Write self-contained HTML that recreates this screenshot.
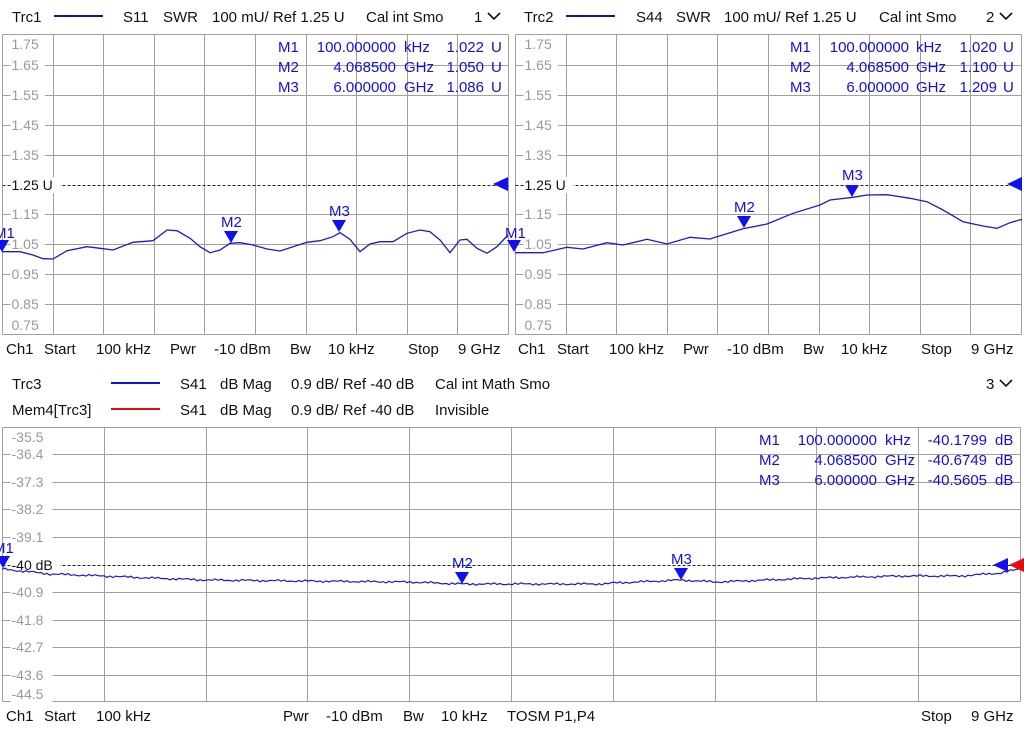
<!DOCTYPE html>
<html><head><meta charset="utf-8"><style>
html,body{margin:0;padding:0;background:#fff;}
svg{display:block;font-family:"Liberation Sans",sans-serif;}
.t{font-size:15px;fill:#111;}
.g{font-size:14px;fill:#9a9a9a;}
.m{font-size:15px;fill:#1010e0;}
.grid line{stroke:#a0a0a0;stroke-width:1;}
</style></head><body>
<svg id="s" width="1024" height="730" viewBox="0 0 1024 730" xmlns="http://www.w3.org/2000/svg">
<g id="grid" class="grid"></g>
<!-- headers -->
<text class="t" x="12" y="22">Trc1</text><line x1="54" y1="16" x2="103" y2="16" stroke="#1010c0" stroke-width="2"/>
<text class="t" x="123" y="22">S11</text><text class="t" x="163" y="22">SWR</text><text class="t" x="212" y="22">100 mU/ Ref 1.25 U</text><text class="t" x="366" y="22">Cal int Smo</text><text class="t" x="474" y="22">1</text>
<polyline points="488,13 494,19 500,13" fill="none" stroke="#111" stroke-width="1.6"/>
<text class="t" x="524" y="22">Trc2</text><line x1="566" y1="16" x2="615" y2="16" stroke="#1010c0" stroke-width="2"/>
<text class="t" x="636" y="22">S44</text><text class="t" x="676" y="22">SWR</text><text class="t" x="724" y="22">100 mU/ Ref 1.25 U</text><text class="t" x="879" y="22">Cal int Smo</text><text class="t" x="986" y="22">2</text>
<polyline points="1000,13 1006,19 1012,13" fill="none" stroke="#111" stroke-width="1.6"/>
<!-- footers top -->
<g class="t">
<text x="6" y="354">Ch1</text><text x="44" y="354">Start</text><text x="96" y="354">100 kHz</text><text x="170" y="354">Pwr</text><text x="214" y="354">-10 dBm</text><text x="290" y="354">Bw</text><text x="328" y="354">10 kHz</text><text x="408" y="354">Stop</text><text x="458" y="354">9 GHz</text>
<text x="518" y="354">Ch1</text><text x="557" y="354">Start</text><text x="609" y="354">100 kHz</text><text x="683" y="354">Pwr</text><text x="727" y="354">-10 dBm</text><text x="803" y="354">Bw</text><text x="841" y="354">10 kHz</text><text x="921" y="354">Stop</text><text x="971" y="354">9 GHz</text>
<text x="12" y="389">Trc3</text><text x="180" y="389">S41</text><text x="220" y="389">dB Mag</text><text x="291" y="389">0.9 dB/ Ref -40 dB</text><text x="435" y="389">Cal int Math Smo</text><text x="986" y="389">3</text>
<text x="12" y="415">Mem4[Trc3]</text><text x="180" y="415">S41</text><text x="220" y="415">dB Mag</text><text x="291" y="415">0.9 dB/ Ref -40 dB</text><text x="435" y="415">Invisible</text>
<text x="6" y="721">Ch1</text><text x="44" y="721">Start</text><text x="96" y="721">100 kHz</text><text x="283" y="721">Pwr</text><text x="326" y="721">-10 dBm</text><text x="403" y="721">Bw</text><text x="441" y="721">10 kHz</text><text x="507" y="721">TOSM P1,P4</text><text x="921" y="721">Stop</text><text x="971" y="721">9 GHz</text>
</g>
<line x1="111" y1="383" x2="160" y2="383" stroke="#1010e0" stroke-width="2"/>
<line x1="111" y1="409" x2="160" y2="409" stroke="#e01010" stroke-width="2"/>
<polyline points="1000,380 1006,386 1012,380" fill="none" stroke="#111" stroke-width="1.6"/>
<g id="labels"></g>
<!-- traces -->
<polyline fill="none" stroke="#1a1ad0" stroke-width="1.3" points="2,251.7 20,251.7 33,255 43,258.7 53,259 67,250.7 87,246.7 100,248.3 113,250 133,242.3 153,240.7 167,230 177,230.7 190,238.3 200,246.7 210,252.7 220,250 230,243.3 240,242.7 253,245 267,249 280,251 293,246.7 307,242.3 320,240.7 333,236.7 340,232.7 350,239.3 360,251.7 370,244 380,241.7 393,241.7 407,233.3 420,230 430,231.7 440,240 450,252.7 460,240 467,239.3 477,248.3 487,253.3 497,246.7 508,235"/>
<polyline fill="none" stroke="#1a1ad0" stroke-width="1.3" points="515,252.7 543,252.7 567,247.3 583,249 607,242.7 623,245 647,239.3 667,244 690,237.3 710,239 717,236.7 743,228.7 767,224 793,213.3 820,205 830,200 853,197.3 867,195 887,194.7 910,198.3 927,201.7 943,210 963,221.7 983,226 997,228.3 1010,222.7 1022,219.3"/>
<polyline id="b" fill="none" stroke="#1a1ad0" stroke-width="1.2" points=""/>
<!-- markers table -->
<g class="m">
<text x="278" y="52">M1</text><text x="396" y="52" text-anchor="end">100.000000</text><text x="404" y="52">kHz</text><text x="484" y="52" text-anchor="end">1.022</text><text x="491" y="52">U</text>
<text x="278" y="72">M2</text><text x="396" y="72" text-anchor="end">4.068500</text><text x="404" y="72">GHz</text><text x="484" y="72" text-anchor="end">1.050</text><text x="491" y="72">U</text>
<text x="278" y="92">M3</text><text x="396" y="92" text-anchor="end">6.000000</text><text x="404" y="92">GHz</text><text x="484" y="92" text-anchor="end">1.086</text><text x="491" y="92">U</text>
<text x="790" y="52">M1</text><text x="909" y="52" text-anchor="end">100.000000</text><text x="916" y="52">kHz</text><text x="997" y="52" text-anchor="end">1.020</text><text x="1003" y="52">U</text>
<text x="790" y="72">M2</text><text x="909" y="72" text-anchor="end">4.068500</text><text x="916" y="72">GHz</text><text x="997" y="72" text-anchor="end">1.100</text><text x="1003" y="72">U</text>
<text x="790" y="92">M3</text><text x="909" y="92" text-anchor="end">6.000000</text><text x="916" y="92">GHz</text><text x="997" y="92" text-anchor="end">1.209</text><text x="1003" y="92">U</text>
<text x="759" y="445">M1</text><text x="877" y="445" text-anchor="end">100.000000</text><text x="885" y="445">kHz</text><text x="987" y="445" text-anchor="end">-40.1799</text><text x="995" y="445">dB</text>
<text x="759" y="465">M2</text><text x="877" y="465" text-anchor="end">4.068500</text><text x="885" y="465">GHz</text><text x="987" y="465" text-anchor="end">-40.6749</text><text x="995" y="465">dB</text>
<text x="759" y="485">M3</text><text x="877" y="485" text-anchor="end">6.000000</text><text x="885" y="485">GHz</text><text x="987" y="485" text-anchor="end">-40.5605</text><text x="995" y="485">dB</text>
<!-- marker labels -->
<text x="-6" y="238">M1</text><text x="221" y="227">M2</text><text x="329" y="216">M3</text><text x="505" y="238">M1</text>
<text x="734" y="212">M2</text><text x="842" y="180">M3</text>
<text x="-7" y="553">M1</text><text x="452" y="568">M2</text><text x="671" y="564">M3</text>
</g>
<g fill="#1010f0">
<polygon points="-5,240 9,240 2,252"/><polygon points="224,231 238,231 231,243"/><polygon points="332,220 346,220 339,232"/><polygon points="507,240 521,240 514,252"/>
<polygon points="737,216 751,216 744,228"/><polygon points="845,185 859,185 852,197"/>
<polygon points="-4,556 10,556 3,568"/><polygon points="455,572 469,572 462,584"/><polygon points="674,568 688,568 681,580"/>
<polygon points="508,177 508,191 493,184"/><polygon points="1022,177 1022,191 1007,184"/><polygon points="1008,558 1008,572 993,565"/>
</g>
<polygon fill="#e01010" points="1024,558 1024,572 1009,565"/>
</svg>
<script>
var NS="http://www.w3.org/2000/svg",grid=document.getElementById('grid'),lab=document.getElementById('labels');
function L(x1,y1,x2,y2,st,dash){var l=document.createElementNS(NS,'line');l.setAttribute('x1',x1);l.setAttribute('y1',y1);l.setAttribute('x2',x2);l.setAttribute('y2',y2);if(st)l.setAttribute('style',st);grid.appendChild(l);}
function T(x,y,s,black){var r=document.createElementNS(NS,'rect');var w=s.length*7.6+4;r.setAttribute('x',x-1);r.setAttribute('y',y-8);r.setAttribute('width',w);r.setAttribute('height',16);r.setAttribute('fill','#fff');lab.appendChild(r);var t=document.createElementNS(NS,'text');t.setAttribute('x',x);t.setAttribute('y',y+5);t.setAttribute('class',black?'t':'g');if(black)t.setAttribute('style','font-size:14px');t.textContent=s;lab.appendChild(t);}
function panel(x0,x1,y0,y1,vx,hy,labs,ref,refLab){
 vx.forEach(function(x){L(x,y0,x,y1);});
 hy.forEach(function(y,i){if(i===ref)return;L(x0,y,x1,y);});
 L(x0,y0,x1,y0);L(x0,y1,x1,y1);L(x0,y0,x0,y1);L(x1,y0,x1,y1);
 L(x0,hy[ref],x1,hy[ref],'stroke:#222;stroke-dasharray:3,2');
 labs.forEach(function(a){T(x0+9,a[0],a[1],a[2]);});
}
var v1=[],v2=[],v3=[];for(var i=1;i<10;i++){v1.push(Math.round(2+i*50.6)+.5);v2.push(Math.round(515+i*50.6)+.5);v3.push(Math.round(2+i*101.8)+.5);}
var h=[65,95,125,155,185,214,244,274,304].map(function(y){return y+.5;});
var lt=[[44,'1.75'],[65,'1.65'],[95,'1.55'],[125,'1.45'],[155,'1.35'],[185,'1.25 U',1],[214,'1.15'],[244,'1.05'],[274,'0.95'],[304,'0.85'],[325,'0.75']];
panel(2.5,508.5,34.5,334.5,v1,h,lt,4);
panel(515.5,1021.5,34.5,334.5,v2,h,lt,4);
var hb=[454,482,509,537,565,592,620,647,675].map(function(y){return y+.5;});
var lb=[[437,'-35.5'],[454,'-36.4'],[482,'-37.3'],[509,'-38.2'],[537,'-39.1'],[565,'-40 dB',1],[592,'-40.9'],[620,'-41.8'],[647,'-42.7'],[675,'-43.6'],[694,'-44.5']];
panel(2.5,1020.5,427.5,701.5,v3,hb,lb,4);
var k=[[2,569],[50,574],[104,576],[150,578],[206,580],[300,581],[410,582],[462,584],[520,584],[600,584],[614,583],[681,580],[716,582],[818,578],[900,576],[960,576],[1000,573],[1020,569]];
var pts=[],j=0;for(var x=2;x<=1020;x+=3){while(j<k.length-2&&x>k[j+1][0])j++;var a=k[j],b=k[j+1],y=a[1]+(b[1]-a[1])*(x-a[0])/(b[0]-a[0]);y+=Math.sin(x*0.9)*0.8+Math.sin(x*2.3)*0.5;pts.push(x+','+y.toFixed(1));}
document.getElementById('b').setAttribute('points',pts.join(' '));
</script>
</body></html>
